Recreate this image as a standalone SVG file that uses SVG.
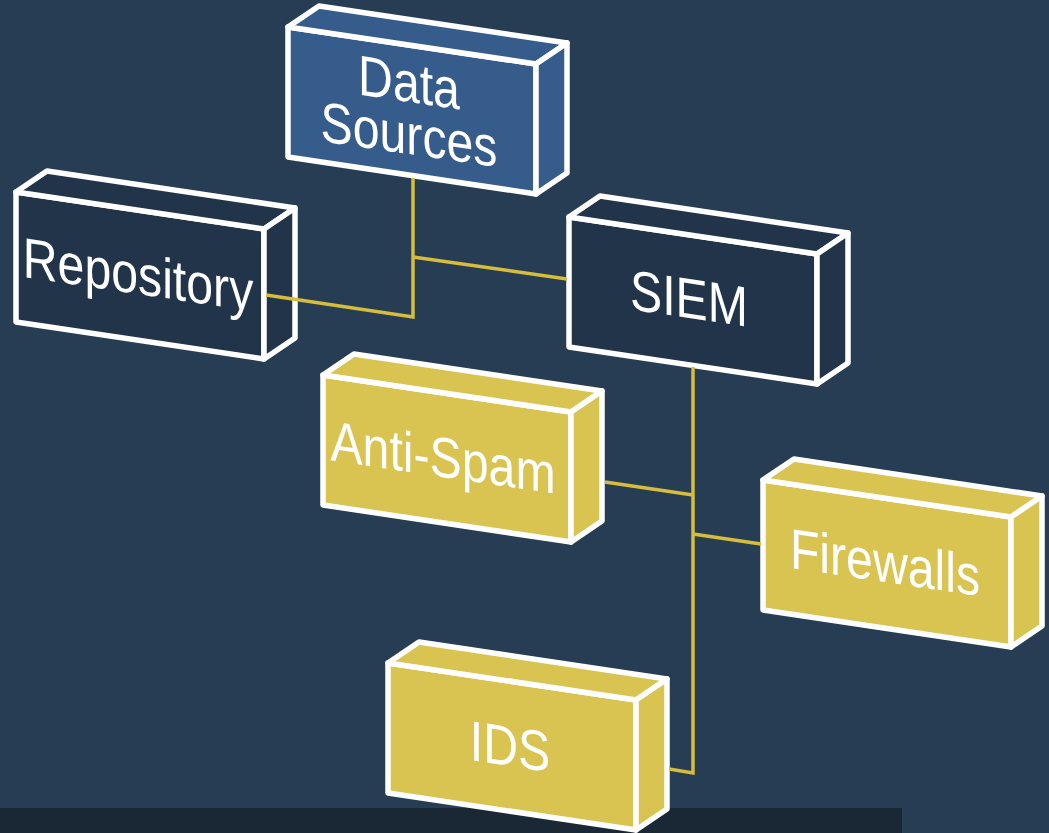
<svg xmlns="http://www.w3.org/2000/svg" xmlns:xlink="http://www.w3.org/1999/xlink" width="1049" height="833" viewBox="0 0 1049 833">
  <style>
    .bg { fill: #273d54; }
    .band { fill: #1a2734; }
    .box { stroke: #ffffff; stroke-width: 5.5; stroke-linejoin: round; }
    .blue { fill: #365c8c; }
    .dark { fill: #22344a; }
    .gold { fill: #d9c452; }
    .lbl { fill: #ffffff; font-family: "Liberation Sans", Arial, sans-serif; font-size: 53px; text-anchor: middle; }
    .wire { fill: none; stroke: #d6be3c; stroke-width: 3.5; stroke-linejoin: miter; }
  </style>
  <defs>
    <!-- slanted 3D block: front face, top face, right side -->
    <g id="block">
      <path d="M0,0 L248,37 L248,167 L0,130 Z"/>
      <path d="M0,0 L31,-21 L279,16 L248,37 Z"/>
      <path d="M248,37 L279,16 L279,146 L248,167 Z"/>
    </g>
  </defs>

  <rect class="bg" x="0" y="0" width="1049" height="833"/>
  <rect class="band" x="0" y="808" width="902" height="25"/>

  <g id="data-sources">
    <use xlink:href="#block" class="box blue" transform="translate(288,27)"/>
    <text class="lbl" transform="matrix(0.91 0.135 0 1.07 409 102)">Data</text>
    <text class="lbl" transform="matrix(0.91 0.135 0 1.07 409 154)">Sources</text>
  </g>

  <g id="repository">
    <use xlink:href="#block" class="box dark" transform="translate(16,192)"/>
    <text class="lbl" transform="matrix(0.91 0.135 0 1.07 138 294)">Repository</text>
  </g>

  <g id="siem">
    <use xlink:href="#block" class="box dark" transform="translate(569,217)"/>
    <text class="lbl" transform="matrix(0.91 0.135 0 1.07 689 318)">SIEM</text>
  </g>

  <g id="anti-spam">
    <use xlink:href="#block" class="box gold" transform="translate(323,375)"/>
    <text class="lbl" transform="matrix(0.91 0.135 0 1.07 443 477)">Anti-Spam</text>
  </g>

  <g id="firewalls">
    <use xlink:href="#block" class="box gold" transform="translate(763,480)"/>
    <text class="lbl" transform="matrix(0.91 0.135 0 1.07 885 582)">Firewalls</text>
  </g>

  <g id="ids">
    <use xlink:href="#block" class="box gold" transform="translate(388,663)"/>
    <text class="lbl" transform="matrix(0.91 0.135 0 1.07 510 766)">IDS</text>
  </g>

  <g id="connectors">
    <path class="wire" d="M266,295 L413,317 L413,178"/>
    <path class="wire" d="M413,257 L567,279"/>
    <path class="wire" d="M693,367 L693,773 L669,769"/>
    <path class="wire" d="M605,482 L693,495"/>
    <path class="wire" d="M693,534 L761,544"/>
  </g>
</svg>
